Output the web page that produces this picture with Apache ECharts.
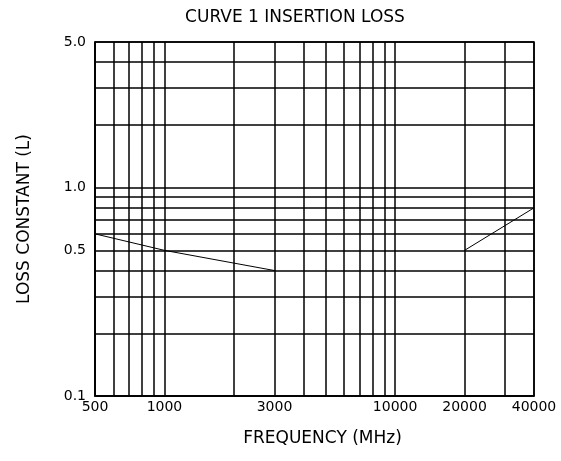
<!DOCTYPE html>
<html>
<head>
<meta charset="utf-8">
<script src="https://cdn.jsdelivr.net/npm/echarts@6/dist/echarts.min.js"></script>
<style>
html,body{margin:0;padding:0;background:#fff;}
#chart{width:561px;height:461px;}
</style>
</head>
<body>
<div id="chart"></div>
<script>
// Data
const curve1Low = [[500, 0.6], [1000, 0.5], [3000, 0.4]];
const curve1High = [[20000, 0.5], [40000, 0.8]];
// Grid / tick values
const xGridValues = [500, 600, 700, 800, 900, 1000, 2000, 3000, 4000, 5000, 6000, 7000, 8000, 9000, 10000, 20000, 30000, 40000];
const xLabelValues = [500, 1000, 3000, 10000, 20000, 40000];
const yGridValues = [0.1, 0.2, 0.3, 0.4, 0.5, 0.6, 0.7, 0.8, 0.9, 1.0, 2, 3, 4, 5];
const yLabelValues = [0.1, 0.5, 1.0, 5.0];

const FONT = 'DejaVu Sans';
const chart = echarts.init(document.getElementById('chart'), null, {renderer: 'canvas'});
chart.setOption({
  animation: false,
  backgroundColor: '#fff',
  title: {
    text: 'CURVE 1 INSERTION LOSS',
    left: 290, top: 4, textAlign: 'center',
    textStyle: {fontFamily: FONT, fontSize: 17, fontWeight: 'normal', color: '#000'}
  },
  grid: {left: 95, right: 27, top: 42, bottom: 65, show: true, borderColor: '#000', borderWidth: 1.5, containLabel: false},
  xAxis: {
    type: 'log', logBase: 10, min: 500, max: 40000,
    name: 'FREQUENCY (MHz)', nameLocation: 'middle', nameGap: 34,
    nameTextStyle: {fontFamily: FONT, fontSize: 17, color: '#000', padding: [0, 0, 0, 16]},
    axisLine: {show: true, lineStyle: {color: '#000', width: 1.5}},
    axisTick: {show: false, customValues: xGridValues},
    axisLabel: {customValues: xLabelValues, fontFamily: FONT, fontSize: 14, color: '#000', margin: 4,
      formatter: v => String(Math.round(v))},
    splitLine: {show: true, lineStyle: {color: '#000', width: 1.5}},
    minorSplitLine: {show: false}
  },
  yAxis: {
    type: 'log', logBase: 10, min: 0.1, max: 5,
    name: 'LOSS CONSTANT (L)', nameLocation: 'middle', nameGap: 62, nameRotate: 90,
    nameTextStyle: {fontFamily: FONT, fontSize: 17, color: '#000'},
    axisLine: {show: true, lineStyle: {color: '#000', width: 1.5}},
    axisTick: {show: false, customValues: yGridValues},
    axisLabel: {customValues: yLabelValues, fontFamily: FONT, fontSize: 14, color: '#000', margin: 9,
      formatter: v => Number(v).toFixed(1)},
    splitLine: {show: true, lineStyle: {color: '#000', width: 1.5}}
  },
  series: [
    {type: 'line', data: curve1Low, symbol: 'none', lineStyle: {color: '#000', width: 1}},
    {type: 'line', data: curve1High, symbol: 'none', lineStyle: {color: '#000', width: 1}}
  ]
});
</script>
</body>
</html>
